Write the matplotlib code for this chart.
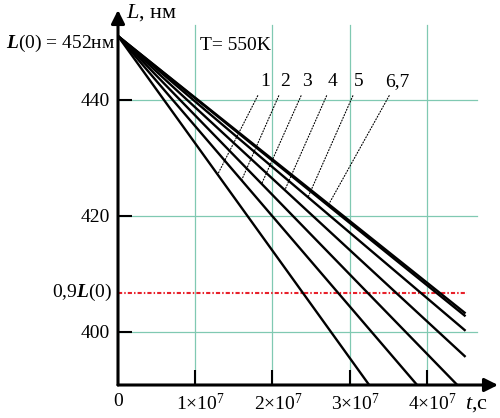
import matplotlib
matplotlib.use('Agg')
import matplotlib.pyplot as plt
from matplotlib.transforms import ScaledTranslation

plt.rcParams['font.family'] = ['Liberation Serif', 'DejaVu Serif']
plt.rcParams['mathtext.fontset'] = 'custom'
plt.rcParams['mathtext.rm'] = 'Liberation Serif'
plt.rcParams['mathtext.it'] = 'Liberation Serif:italic'
plt.rcParams['mathtext.bf'] = 'Liberation Serif:bold:italic'

# ---- data ----
L0 = 451.0                      # start of all lines (nm)
series_names = ['1', '2', '3', '4', '5', '6', '7']
t_end = [3.25e7, 3.87e7, 4.39e7, 4.50e7, 4.50e7, 4.50e7, 4.50e7]
L_end = [390.9, 390.9, 390.9, 395.7, 400.2, 402.7, 403.2]
L_ref = 0.9 * 452               # 0,9 L(0)

x_ticks = [0, 1e7, 2e7, 3e7, 4e7]
x_tick_labels = ['0', r'1×10$^7$', r'2×10$^7$', r'3×10$^7$', r'4×10$^7$']
y_ticks = [400, 420, 440]
y_tick_labels = ['400', '420', '440']

label_texts = ['1', '2', '3', '4', '5', '6,7']
label_t = [1.90e7, 2.16e7, 2.45e7, 2.78e7, 3.12e7, 3.61e7]
label_L = 443.1
target_series = [0, 1, 2, 3, 4, 5]
target_t = [1.29e7, 1.60e7, 1.86e7, 2.16e7, 2.46e7, 2.72e7]

xlim = (0, 4.92e7)
ylim = (390.86, 455.5)
grid_top = 452.9
grid_right = 4.65e7
ref_right = 4.52e7

fig = plt.figure(figsize=(5, 4.18), dpi=100)
ax = fig.add_axes([118/500, 33/418, 380/500, 375/418])
ax.set_xlim(*xlim)
ax.set_ylim(*ylim)
for s in ax.spines.values():
    s.set_visible(False)

grid_c = '#80c9b2'
for t in x_ticks[1:]:
    ax.plot([t, t], [ylim[0], grid_top], color=grid_c, lw=0.9, zorder=1)
for y in y_ticks:
    ax.plot([0, grid_right], [y, y], color=grid_c, lw=0.9, zorder=1)

ref_line, = ax.plot([0, ref_right], [L_ref, L_ref], color='#e8202a', lw=1.5, zorder=2)
ref_line.set_dashes((2, 1, 0.7, 1))

def L_at(i, t):
    return L0 + (L_end[i] - L0) * t / t_end[i]

for i in range(len(series_names)):
    ax.plot([0, t_end[i]], [L0, L_end[i]], color='black', lw=1.7, zorder=3,
            solid_capstyle='butt')

for txt, lt, si, tt in zip(label_texts, label_t, target_series, target_t):
    ax.annotate(txt, xy=(tt, L_at(si, tt)), xytext=(lt, label_L),
                ha='center', va='center', fontsize=14,
                arrowprops=dict(arrowstyle='-', lw=0.8, linestyle=':', color='black',
                                shrinkA=2, shrinkB=0))

# axes with arrows
ax.annotate('', xy=(1, 0), xytext=(0, 0), xycoords='axes fraction',
            arrowprops=dict(arrowstyle='-|>', lw=2.2, color='black', mutation_scale=20,
                            shrinkA=0, shrinkB=0))
ax.annotate('', xy=(0, 1), xytext=(0, 0), xycoords='axes fraction',
            arrowprops=dict(arrowstyle='-|>', lw=2.2, color='black', mutation_scale=20,
                            shrinkA=0, shrinkB=0))

ax.set_xticks(x_ticks)
ax.set_xticklabels(x_tick_labels)
ax.set_yticks(y_ticks)
ax.set_yticklabels(y_tick_labels)
ax.tick_params(axis='x', direction='in', length=10.5, width=1.5, labelsize=14, pad=6)
ax.tick_params(axis='y', direction='in', length=10, width=1.5, labelsize=14, pad=6)
for lab in ax.get_xticklabels()[1:]:
    lab.set_transform(lab.get_transform() + ScaledTranslation(4/72, 0, fig.dpi_scale_trans))

# texts
ax.text(-0.015, L_ref, r'0,9$\mathbf{L}$(0)', transform=ax.get_yaxis_transform(),
        ha='right', va='center', fontsize=14)
fig.text(115/500, 1 - 43/418, r'$\mathbf{L}$(0) = 452нм', ha='right', va='center', fontsize=14)
fig.text(126/500, 1 - 13/418, r'$\mathit{L}$, нм', ha='left', va='center', fontsize=16)
fig.text(200/500, 1 - 45/418, 'T= 550K', ha='left', va='center', fontsize=14)
fig.text(465/500, 1 - 405/418, r'$\mathit{t}$,c', ha='left', va='center', fontsize=16)

fig.savefig('out.png', dpi=100)
